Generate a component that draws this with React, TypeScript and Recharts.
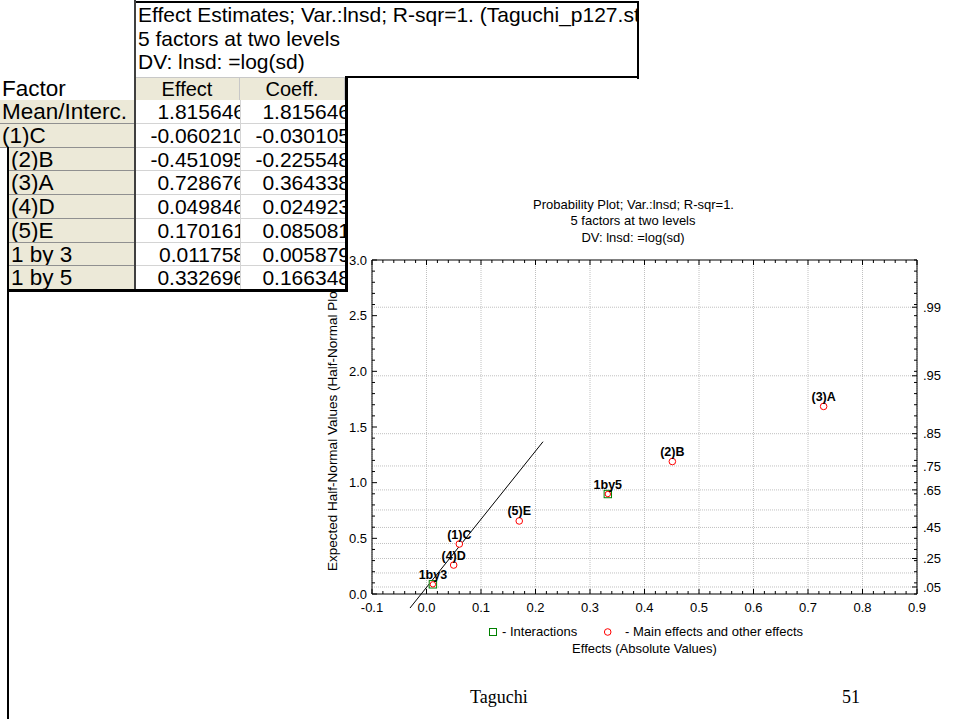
import React from 'react';
import { ScatterChart, Scatter, XAxis, YAxis, CartesianGrid, ReferenceLine, Legend } from 'recharts';

// ---------- data ----------
const factorNames = ['Mean/Interc.', '(1)C', '(2)B', '(3)A', '(4)D', '(5)E', '1 by 3', '1 by 5'];
const effectValues = [1.815646, -0.06021, -0.451095, 0.728676, 0.049846, 0.170161, 0.011758, 0.332696];
const coeffValues = [1.815646, -0.030105, -0.225548, 0.364338, 0.024923, 0.085081, 0.005879, 0.166348];
const tableTitleLines = ['Effect Estimates; Var.:lnsd; R-sqr=1. (Taguchi_p127.sta)', '5 factors at two levels', 'DV: lnsd: =log(sd)'];
const tableColumns = ['Factor', 'Effect', 'Coeff.'];

const chartTitleLines = ['Probability Plot; Var.:lnsd; R-sqr=1.', '5 factors at two levels', 'DV: lnsd: =log(sd)'];

const mainLabels = ['(1)C', '(2)B', '(3)A', '(4)D', '(5)E'];
const mainEffects = [0.06021, 0.451095, 0.728676, 0.049846, 0.170161];
const mainExpected = [0.449, 1.19, 1.685, 0.26, 0.656];

const interactionLabels = ['1by3', '1by5'];
const interactionEffects = [0.011758, 0.332696];
const interactionExpected = [0.087, 0.898];

const fitLineX = [-0.0303, 0.2138];
const fitLineY = [-0.126, 1.368];

const xMajorTicks = [-0.1, 0, 0.1, 0.2, 0.3, 0.4, 0.5, 0.6, 0.7, 0.8, 0.9];
const probLabels = ['.05', '.25', '.45', '.65', '.75', '.85', '.95', '.99'];
const probPositions = [0.063, 0.319, 0.598, 0.935, 1.15, 1.44, 1.96, 2.576];
const probGridPositions = [0.063, 0.189, 0.319, 0.454, 0.598, 0.755, 0.935, 1.15, 1.44, 1.96, 2.576];

const legendLabels = ['- Interactions', '- Main effects and other effects'];
const xAxisTitle = 'Effects (Absolute Values)';
const yAxisTitle = 'Expected Half-Normal Values (Half-Normal Plot)';
const footerLeft = 'Taguchi';
const footerRight = '51';

// ---------- derived ----------
const xMinorTicks: number[] = [];
for (let i = 0; i <= 50; i++) xMinorTicks.push(Math.round((-0.1 + i * 0.02) * 1000) / 1000);
const yMinorTicks: number[] = [];
for (let i = 0; i <= 30; i++) yMinorTicks.push(Math.round(i * 0.1 * 1000) / 1000);
const rightTicks = [...yMinorTicks, ...probPositions].sort((a, b) => a - b);

const mainPoints = mainLabels.map((l, i) => ({ x: mainEffects[i], y: mainExpected[i], label: l }));
const interactionPoints = interactionLabels.map((l, i) => ({ x: interactionEffects[i], y: interactionExpected[i], label: l }));

const FONT = 'Arial, "Liberation Sans", Helvetica, sans-serif';
const SERIF = '"Times New Roman", "Liberation Serif", serif';
const BEIGE = '#ECE9D8';

const isMult = (v: number, step: number) => Math.abs(v / step - Math.round(v / step)) < 1e-6;
const probIndex = (v: number) => probPositions.findIndex((p) => Math.abs(p - v) < 1e-9);

// ---------- ticks ----------
function BottomTick(p: any) {
  const { x, y, payload } = p;
  const v = payload.value;
  const major = isMult(v, 0.1);
  return (
    <g>
      <line x1={x} x2={x} y1={y} y2={y - (major ? 5 : 3)} stroke="#000" />
      {major && (
        <text x={x} y={y + 13} dy="0.36em" textAnchor="middle" fontSize={13} fontFamily={FONT} fill="#000">
          {v.toFixed(1)}
        </text>
      )}
    </g>
  );
}
function TopTick(p: any) {
  const { x, y, payload } = p;
  const major = isMult(payload.value, 0.1);
  return <line x1={x} x2={x} y1={y} y2={y + (major ? 5 : 3)} stroke="#000" />;
}
function LeftTick(p: any) {
  const { x, y, payload } = p;
  const v = payload.value;
  const major = isMult(v, 0.5);
  return (
    <g>
      <line x1={x} x2={x + (major ? 5 : 3)} y1={y} y2={y} stroke="#000" />
      {major && (
        <text x={x - 5} y={y} dy="0.36em" textAnchor="end" fontSize={13} fontFamily={FONT} fill="#000">
          {v.toFixed(1)}
        </text>
      )}
    </g>
  );
}
function RightTick(p: any) {
  const { x, y, payload } = p;
  const idx = probIndex(payload.value);
  return (
    <g>
      <line x1={x} x2={x - (idx >= 0 ? 5 : 3)} y1={y} y2={y} stroke="#000" />
      {idx >= 0 && (
        <text x={x + 6} y={y} dy="0.36em" textAnchor="start" fontSize={13} fontFamily={FONT} fill="#000">
          {probLabels[idx]}
        </text>
      )}
    </g>
  );
}

// ---------- shapes ----------
function MainShape(p: any) {
  const { cx, cy, payload } = p;
  return (
    <g>
      <circle cx={cx} cy={cy} r={3.3} fill="#fff" stroke="#ff0000" strokeWidth={1} />
      <text x={cx} y={cy - 10} dy="0.36em" textAnchor="middle" fontSize={12.5} fontWeight="bold" fontFamily={FONT} fill="#000">
        {payload.label}
      </text>
    </g>
  );
}
function InteractionShape(p: any) {
  const { cx, cy, payload } = p;
  return (
    <g>
      <rect x={cx - 3.7} y={cy - 3.7} width={7.4} height={7.4} fill="#fff" stroke="#008000" strokeWidth={1} />
      <circle cx={cx} cy={cy} r={2.7} fill="#fff" stroke="#ff0000" strokeWidth={1} />
      <text x={cx} y={cy - 10} dy="0.36em" textAnchor="middle" fontSize={12.5} fontWeight="bold" fontFamily={FONT} fill="#000">
        {payload.label}
      </text>
    </g>
  );
}

function LegendContent() {
  return (
    <div style={{ position: 'relative', width: 340, height: 16, fontFamily: FONT, fontSize: 13, color: '#000' }}>
      <svg width={340} height={16} style={{ position: 'absolute', left: 0, top: 0 }}>
        <rect x={9.5} y={4.5} width={7} height={7} fill="#fff" stroke="#008000" />
        <circle cx={127.7} cy={8} r={3.3} fill="#fff" stroke="#ff0000" />
      </svg>
      <span style={{ position: 'absolute', left: 22, top: 0, lineHeight: '16px', whiteSpace: 'nowrap' }}>{legendLabels[0]}</span>
      <span style={{ position: 'absolute', left: 145, top: 0, lineHeight: '16px', whiteSpace: 'nowrap' }}>{legendLabels[1]}</span>
    </div>
  );
}

function ChartBlock() {
  return (
    <div style={{ position: 'absolute', left: 300, top: 180 }}>
      <ScatterChart width={654} height={480} margin={{ top: 0, right: 0, bottom: 0, left: 0 }}>
        <CartesianGrid stroke="#c0c0c0" strokeDasharray="1 1" horizontalValues={probGridPositions} verticalValues={xMajorTicks} />
        <XAxis
          type="number" dataKey="x" domain={[-0.1, 0.9]} allowDataOverflow ticks={xMinorTicks} interval={0}
          tickSize={0} tickMargin={0} tickLine={false} tick={(p: any) => <BottomTick {...p} />}
          axisLine={{ stroke: '#000' }} height={66}
          label={{
            content: (lp: any) => {
              const vb = lp.viewBox;
              return (
                <text x={vb.x + vb.width / 2} y={vb.y + 54} dy="0.36em" textAnchor="middle" fontSize={13} fontFamily={FONT} fill="#000">
                  {xAxisTitle}
                </text>
              );
            },
          }}
        />
        <XAxis
          xAxisId="top" orientation="top" type="number" dataKey="x" domain={[-0.1, 0.9]} allowDataOverflow ticks={xMinorTicks} interval={0}
          tickSize={0} tickMargin={0} tickLine={false} tick={(p: any) => <TopTick {...p} />}
          axisLine={{ stroke: '#000' }} height={80}
        />
        <YAxis
          type="number" dataKey="y" domain={[0, 3]} allowDataOverflow ticks={yMinorTicks} interval={0}
          tickSize={0} tickMargin={0} tickLine={false} tick={(p: any) => <LeftTick {...p} />}
          axisLine={{ stroke: '#000' }} width={72}
          label={{
            content: (lp: any) => {
              const vb = lp.viewBox;
              const cx = vb.x + 32;
              const cy = vb.y + vb.height / 2;
              return (
                <text transform={`translate(${cx},${cy}) rotate(-90)`} x={0} y={0} dy="0.36em" textAnchor="middle" fontSize={13.5} fontFamily={FONT} fill="#000">
                  {yAxisTitle}
                </text>
              );
            },
          }}
        />
        <YAxis
          yAxisId="right" orientation="right" type="number" dataKey="y" domain={[0, 3]} allowDataOverflow ticks={rightTicks} interval={0}
          tickSize={0} tickMargin={0} tickLine={false} tick={(p: any) => <RightTick {...p} />}
          axisLine={{ stroke: '#000' }} width={37}
        />
        <ReferenceLine
          segment={[{ x: fitLineX[0], y: fitLineY[0] }, { x: fitLineX[1], y: fitLineY[1] }]}
          stroke="#000" strokeWidth={1} ifOverflow="visible"
        />
        <Scatter name="Main effects and other effects" data={mainPoints} isAnimationActive={false} shape={(p: any) => <MainShape {...p} />} />
        <Scatter name="Interactions" data={interactionPoints} isAnimationActive={false} shape={(p: any) => <InteractionShape {...p} />} />
        <Legend
          layout="vertical" align="center" verticalAlign="middle"
          wrapperStyle={{ position: 'absolute', left: 180, top: 444, width: 340, height: 16 }}
          content={() => <LegendContent />}
        />
      </ScatterChart>
      <div style={{ position: 'absolute', left: 233, top: 17, width: 200, textAlign: 'center', fontFamily: FONT, fontSize: 13, lineHeight: '16.3px', color: '#000', whiteSpace: 'nowrap' }}>
        {chartTitleLines.map((t, i) => (
          <div key={i}>{t}</div>
        ))}
      </div>
    </div>
  );
}

function TableBlock() {
  const rowTop = 100;
  const rowH = 23.75;
  const base: React.CSSProperties = { fontFamily: FONT, color: '#000', whiteSpace: 'nowrap' };
  return (
    <div style={{ position: 'absolute', left: 0, top: 0, width: 660, height: 300 }}>
      {/* title box */}
      <div style={{ position: 'absolute', left: 135, top: 1, width: 502, height: 76, background: '#fff', overflow: 'hidden' }}>
        {tableTitleLines.map((t, i) => (
          <div key={i} style={{ ...base, fontSize: 21, position: 'absolute', left: 3, top: 2 + i * 23.5, lineHeight: '24px' }}>{t}</div>
        ))}
      </div>
      <div style={{ position: 'absolute', left: 135, top: 1, width: 504, height: 2, background: '#000' }} />
      <div style={{ position: 'absolute', left: 637, top: 1, width: 2, height: 78, background: '#000' }} />
      <div style={{ position: 'absolute', left: 345, top: 76, width: 294, height: 2, background: '#000' }} />
      {/* header row */}
      <div style={{ ...base, fontSize: 22.5, position: 'absolute', left: 2, top: 78, height: 22, lineHeight: '22px' }}>{tableColumns[0]}</div>
      {[1, 2].map((c) => (
        <div key={c} style={{ ...base, fontSize: 20, position: 'absolute', left: 135 + (c - 1) * 105, top: 77, width: 104, height: 22, lineHeight: '22px', background: BEIGE, textAlign: 'center', borderRight: '1px solid #c8c8c8', borderTop: '1px solid #c8c8c8', borderBottom: '1px solid #c8c8c8' }}>
          {tableColumns[c]}
        </div>
      ))}
      {/* data rows */}
      {factorNames.map((f, i) => {
        const top = rowTop + i * rowH;
        const left = i >= 2 ? 9 : 0;
        return (
          <React.Fragment key={f}>
            <div style={{ ...base, fontSize: 22.5, position: 'absolute', left, top, width: 135 - left, height: rowH - 1, lineHeight: `${rowH}px`, background: BEIGE, borderBottom: '1px solid #909090', overflow: 'hidden' }}>
              <span style={{ paddingLeft: 2 }}>{f}</span>
            </div>
            {[effectValues[i], coeffValues[i]].map((v, c) => (
              <div key={c} style={{ position: 'absolute', left: 136 + c * 105, top, width: 104, height: rowH - 1, background: '#fff', borderBottom: '1px solid #d4d4d4', borderRight: c === 0 ? '1px solid #d4d4d4' : 'none', overflow: 'hidden' }}>
                <span style={{ ...base, fontSize: 21, position: 'absolute', right: -5, top: 0, lineHeight: `${rowH}px` }}>{v.toFixed(6)}</span>
              </div>
            ))}
          </React.Fragment>
        );
      })}
      {/* heavy lines */}
      <div style={{ position: 'absolute', left: 134, top: 0, width: 2, height: 290, background: '#404040' }} />
      <div style={{ position: 'absolute', left: 345, top: 77, width: 3, height: 215, background: '#000' }} />
      <div style={{ position: 'absolute', left: 7, top: 289, width: 341, height: 3, background: '#000' }} />
    </div>
  );
}

export default function App() {
  return (
    <div style={{ position: 'absolute', left: 0, top: 0, width: 954, height: 719, background: '#fff', overflow: 'hidden' }}>
      <ChartBlock />
      <TableBlock />
      <div style={{ position: 'absolute', left: 7, top: 147, width: 2, height: 572, background: '#000' }} />
      <div style={{ position: 'absolute', left: 470, top: 686, fontFamily: SERIF, fontSize: 18, color: '#000', whiteSpace: 'nowrap', lineHeight: '22px' }}>{footerLeft}</div>
      <div style={{ position: 'absolute', left: 842, top: 686, fontFamily: SERIF, fontSize: 18, color: '#000', whiteSpace: 'nowrap', lineHeight: '22px' }}>{footerRight}</div>
    </div>
  );
}
